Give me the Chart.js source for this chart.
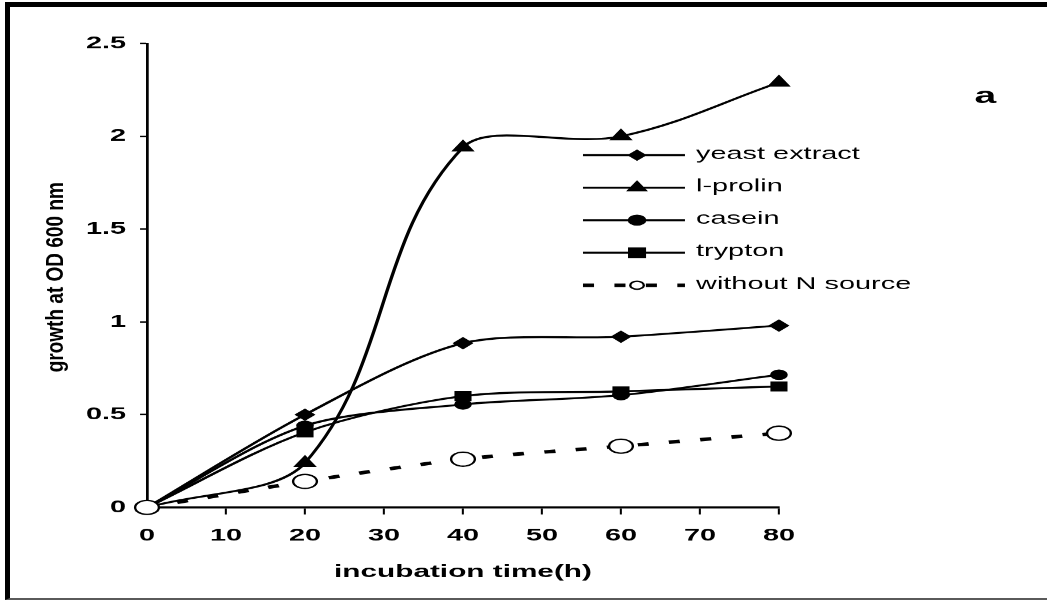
<!DOCTYPE html>
<html>
<head>
<meta charset="utf-8">
<title>growth at OD 600 nm</title>
<script src="https://cdn.jsdelivr.net/npm/chart.js@4/dist/chart.umd.min.js"></script>
<style>
  html, body { margin: 0; padding: 0; background: #fff; }
  #page { position: relative; width: 1047px; height: 600px; overflow: hidden; }
  /* canvas is laid out 616 wide and shown 1047 wide: wide glyphs and oval markers */
  #myChart { position: absolute; left: 0; top: 0; width: 1047px; height: 600px; }
  #frame {
    position: absolute; left: 5px; top: 2px; width: 1042px; height: 598px;
    box-sizing: border-box; pointer-events: none;
    border-top: 5px solid #000; border-left: 5px solid #000; border-bottom: 2px solid #5a5a5a;
  }
</style>
</head>
<body>
<div id="page">
  <canvas id="myChart" width="616" height="600" style="width:1047px;height:600px"></canvas>
  <div id="frame"></div>
</div>
<script>
// horizontal stretch between canvas layout and screen
const S = 1047 / 616;

// data
const times = [0, 20, 40, 60, 80];
const yeastExtract = [0, 0.50, 0.885, 0.92, 0.98];
const lProlin = [0, 0.24, 1.94, 2.0, 2.29];
const casein = [0, 0.44, 0.555, 0.605, 0.715];
const trypton = [0, 0.405, 0.60, 0.625, 0.652];
const withoutN = [0, 0.14, 0.26, 0.33, 0.40];

const seriesNames = ['yeast extract', 'l-prolin', 'casein', 'trypton', 'without N source'];
const xTicks = [0, 10, 20, 30, 40, 50, 60, 70, 80];
const yTicks = [0, 0.5, 1, 1.5, 2, 2.5];
const xTitle = 'incubation time(h)';
const yTitle = 'growth at OD 600 nm';
const panelLabel = 'a';

const toPoints = vals => vals.map((v, i) => ({ x: times[i], y: v }));

Chart.defaults.font.family = '"Liberation Sans", Arial, sans-serif';
Chart.defaults.color = '#000';

function solidSeries(name, vals, style, radius, tension, order) {
  return {
    label: name,
    data: toPoints(vals),
    borderColor: '#000',
    borderWidth: 2,
    backgroundColor: '#000',
    pointStyle: style,
    pointRadius: radius,
    pointBackgroundColor: '#000',
    pointBorderColor: '#000',
    pointBorderWidth: 1,
    tension: tension,
    clip: false,
    order: order
  };
}

const datasets = [
  solidSeries(seriesNames[0], yeastExtract, 'rectRot', 5.5, 0.3, 1),
  solidSeries(seriesNames[1], lProlin, 'triangle', 7, 0.36, 2),
  solidSeries(seriesNames[2], casein, 'circle', 4.7, 0.3, 3),
  solidSeries(seriesNames[3], trypton, 'rect', 6.4, 0.3, 4),
  {
    label: seriesNames[4],
    data: toPoints(withoutN),
    borderColor: '#000',
    borderWidth: 3.5,
    borderDash: [6.5, 12],
    backgroundColor: '#fff',
    pointStyle: 'circle',
    pointRadius: 7,
    pointBackgroundColor: '#fff',
    pointBorderColor: '#000',
    pointBorderWidth: 1.4,
    tension: 0.3,
    clip: false,
    order: 0
  }
];

// marker sizes used in the legend box
const legendRadius = [5, 6.5, 5, 6.8, 4];

// legend box, y title and panel letter
const extras = {
  id: 'extras',
  afterDraw(chart) {
    const ctx = chart.ctx;

    // y title, only partly widened with the rest
    ctx.save();
    ctx.translate(33, 277);
    ctx.scale(1.3 / S, 1);
    ctx.rotate(-Math.PI / 2);
    ctx.font = 'bold 19px "Liberation Sans", Arial, sans-serif';
    ctx.fillStyle = '#000';
    ctx.textAlign = 'center';
    ctx.textBaseline = 'middle';
    ctx.fillText(yTitle, 0, 0);
    ctx.restore();

    // legend
    const x0 = 343, x1 = 403, xm = 374.8, xt = 409.5;
    chart.data.datasets.forEach((ds, i) => {
      const y = 155 + i * 32.5;
      ctx.save();
      ctx.strokeStyle = '#000';
      ctx.lineWidth = ds.borderWidth;
      ctx.setLineDash(ds.borderDash || []);
      ctx.beginPath();
      ctx.moveTo(x0, y);
      ctx.lineTo(x1, y);
      ctx.stroke();
      ctx.setLineDash([]);
      ctx.fillStyle = ds.pointBackgroundColor;
      ctx.strokeStyle = ds.pointBorderColor;
      ctx.lineWidth = ds.pointBorderWidth;
      Chart.helpers.drawPoint(ctx, {
        pointStyle: ds.pointStyle,
        radius: legendRadius[i],
        rotation: 0,
        borderWidth: ds.pointBorderWidth
      }, xm, y);
      ctx.font = '17px "Liberation Sans", Arial, sans-serif';
      ctx.fillStyle = '#000';
      ctx.textAlign = 'left';
      ctx.textBaseline = 'middle';
      ctx.fillText(ds.label, xt, y - 1);
      ctx.restore();
    });

    // panel letter
    ctx.save();
    ctx.font = 'bold 23px "Liberation Sans", Arial, sans-serif';
    ctx.fillStyle = '#000';
    ctx.textAlign = 'center';
    ctx.textBaseline = 'alphabetic';
    ctx.fillText(panelLabel, 579.8, 103);
    ctx.restore();
  }
};

const ctx = document.getElementById('myChart').getContext('2d');

const chart = new Chart(ctx, {
  type: 'line',
  data: { datasets: datasets },
  plugins: [extras],
  options: {
    responsive: false,
    devicePixelRatio: S,
    animation: false,
    events: [],
    layout: { padding: { left: 0, right: 157.7, top: 43.5, bottom: 0 } },
    plugins: {
      legend: { display: false },
      tooltip: { enabled: false }
    },
    scales: {
      x: {
        type: 'linear',
        min: 0,
        max: 80,
        afterBuildTicks: s => { s.ticks = xTicks.map(v => ({ value: v })); },
        afterFit: s => { s.height = 93; },
        grid: {
          drawOnChartArea: false,
          drawTicks: true,
          tickLength: 7,
          tickColor: '#000',
          tickWidth: 1.2
        },
        border: { display: true, color: '#000', width: 2 },
        ticks: {
          autoSkip: false,
          maxRotation: 0,
          padding: 11,
          color: '#000',
          font: { size: 17, weight: 'bold' },
          callback: v => String(v)
        },
        title: {
          display: true,
          text: xTitle,
          color: '#000',
          font: { size: 17.5, weight: 'bold' },
          padding: { top: 0, bottom: 18 }
        }
      },
      y: {
        type: 'linear',
        min: 0,
        max: 2.5,
        afterBuildTicks: s => { s.ticks = yTicks.map(v => ({ value: v })); },
        afterFit: s => { s.width = 86.5; },
        grid: {
          drawOnChartArea: false,
          drawTicks: true,
          tickLength: 4.1,
          tickColor: '#000',
          tickWidth: 1.5
        },
        border: { display: true, color: '#000', width: 1.6 },
        ticks: {
          padding: 8.2,
          color: '#000',
          font: { size: 17, weight: 'bold' },
          callback: v => String(v)
        }
      }
    }
  }
});
</script>
</body>
</html>
